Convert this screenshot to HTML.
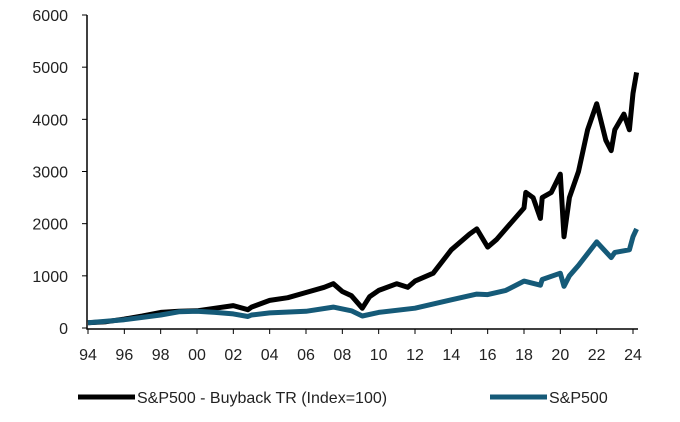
<!DOCTYPE html>
<html><head><meta charset="utf-8"><style>
body{margin:0;background:#fff;}
svg{display:block;font-family:"Liberation Sans",sans-serif;}
</style></head><body>
<svg id="c" width="680" height="422"></svg>
<script>
const yTicks=[0,1000,2000,3000,4000,5000,6000];
const xTickLabels=["94","96","98","00","02","04","06","08","10","12","14","16","18","20","22","24"];
const buyT=[94,95,96,97,98,99,100,101,102,102.8,103,104,105,106,107,107.5,108,108.5,109.1,109.5,110,111,111.6,112,113,114,115,115.4,116,116.5,117,118,118.1,118.5,118.9,119,119.5,120,120.2,120.5,121,121.5,122,122.5,122.8,123,123.5,123.8,124,124.2];
const buyV=[100,120,170,230,300,320,330,380,430,350,400,530,580,680,780,850,700,620,380,600,720,850,780,900,1050,1500,1800,1900,1550,1700,1900,2300,2600,2500,2100,2500,2600,2950,1750,2500,3000,3800,4300,3600,3400,3800,4100,3800,4500,4900];
const spxT=[94,96,98,99,100,101,102,102.8,103,104,106,107.5,108.5,109.1,110,112,114,115.4,116,117,118,118.9,119,120,120.2,120.5,121,122,122.8,123,123.8,124,124.2];
const spxV=[100,160,250,310,320,300,270,220,250,290,320,400,330,230,300,380,540,650,640,720,900,820,930,1050,800,1000,1200,1650,1350,1450,1500,1750,1900];
const NS="http://www.w3.org/2000/svg";
const svg=document.getElementById('c');
const x=t=>88+(t-94)*(633-88)/30;
const y=v=>328-v*(328-15)/6000;
function el(tag,attrs){const e=document.createElementNS(NS,tag);for(const k in attrs)e.setAttribute(k,attrs[k]);svg.appendChild(e);return e;}
const ax=el('path',{d:`M87 15 V329 H638`,stroke:'#000','stroke-width':1.5,fill:'none'});


yTicks.forEach(v=>{
 const tk=el('line',{x1:82,x2:87,y1:y(v),y2:y(v),stroke:'#000'});
 
 
 const t=el('text',{x:68,y:y(v)+6,'text-anchor':'end','font-size':16,fill:'#222'});
 t.textContent=v;
 
 
});
xTickLabels.forEach((l,i)=>{
 const t0=94+i*2;
 const tk=el('line',{x1:x(t0),x2:x(t0),y1:329,y2:334,stroke:'#000'});
 
 
 const t=el('text',{x:x(t0),y:360,'text-anchor':'middle','font-size':16,fill:'#222'});
 t.textContent=l;
 
 
});
function line(T,V,col,name){
 const d=T.map((t,i)=>(i?'L':'M')+x(t).toFixed(1)+' '+y(V[i]).toFixed(1)).join(' ');
 const p=el('path',{d:d,stroke:col,'stroke-width':5,fill:'none','stroke-linejoin':'round'});
 
 
}
line(buyT,buyV,'#000','buyback-tr-line');
line(spxT,spxV,'#155a78','sp500-line');
const l1=el('line',{x1:78,x2:135,y1:397,y2:397,stroke:'#000','stroke-width':5});


const t1=el('text',{x:137,y:403,'font-size':16,fill:'#222'});
t1.textContent='S&P500 - Buyback TR (Index=100)';


const l2=el('line',{x1:490,x2:547,y1:397,y2:397,stroke:'#155a78','stroke-width':5});


const t2=el('text',{x:549,y:403,'font-size':16,fill:'#222'});
t2.textContent='S&P500';


</script>
</body></html>
